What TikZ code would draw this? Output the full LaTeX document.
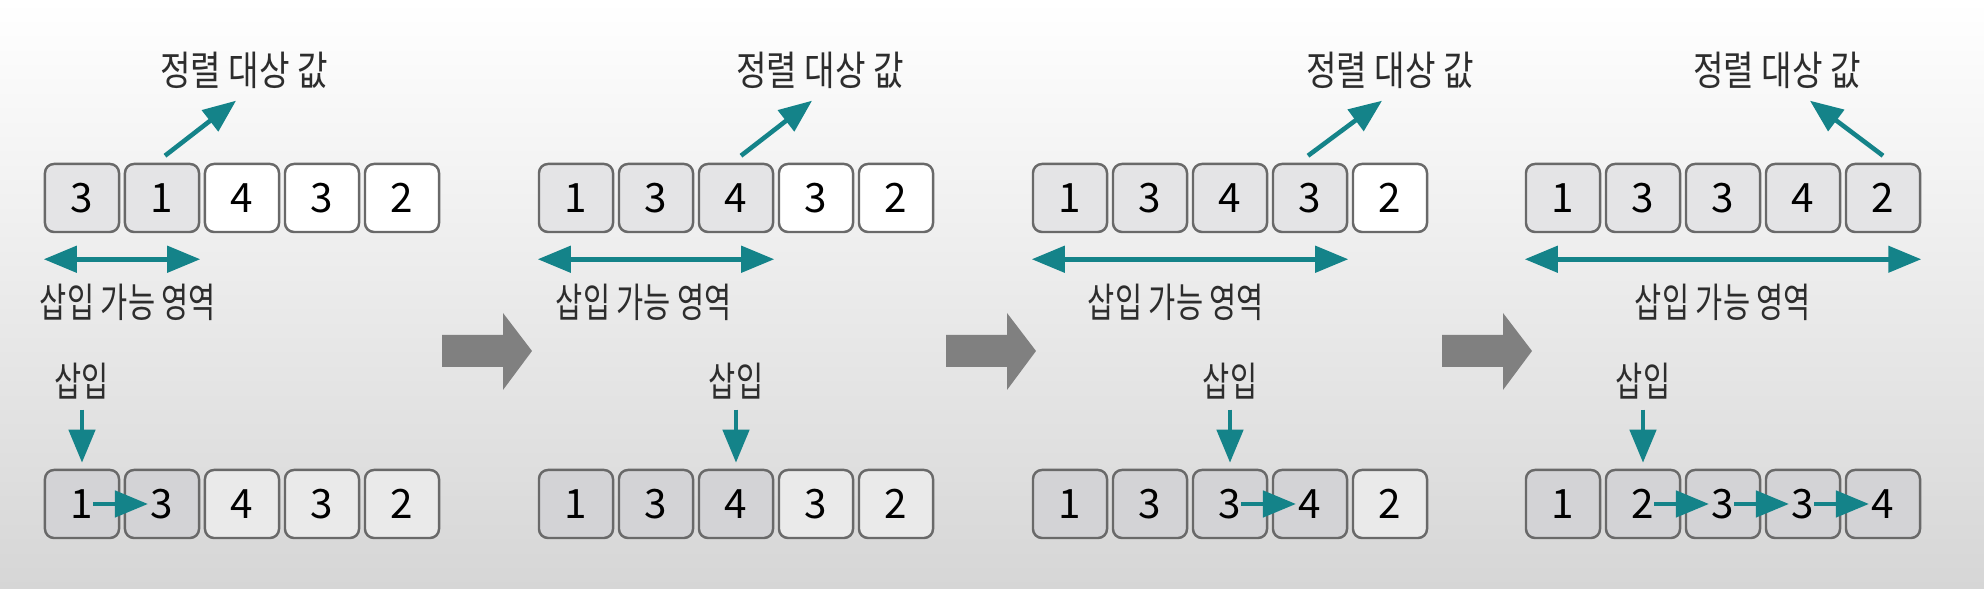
\documentclass[tikz,border=0pt]{standalone}
\usepackage{fontspec}
\setmainfont{Noto Sans CJK KR}
\newfontfamily\kofont[FakeStretch=0.82]{Noto Sans CJK KR}
\newfontfamily\kofontnarrow[FakeStretch=0.73]{Noto Sans CJK KR}
\usetikzlibrary{arrows.meta,positioning}
\definecolor{bgbottom}{RGB}{214,214,214}
\definecolor{bgmiddle}{RGB}{240,240,240}
\definecolor{topdone}{RGB}{228,228,230}
\definecolor{botdone}{RGB}{211,211,214}
\definecolor{bottodo}{RGB}{234,234,234}
\definecolor{cellline}{RGB}{105,105,105}
\definecolor{arrowteal}{RGB}{20,131,137}
\definecolor{biggray}{RGB}{128,128,128}
\definecolor{textgray}{RGB}{45,45,45}

\begin{document}
\begin{tikzpicture}[x=0.01cm, y=0.01cm, >={Triangle[length=0.33cm, width=0.26cm]},
  node distance=0.035cm,
  cell/.style={draw=cellline, line width=0.7pt, rounded corners=0.09cm, minimum width=0.74cm, minimum height=0.68cm, inner sep=0pt, font=\fontsize{11.5}{12}\selectfont},
  lbl/.style={inner sep=0pt, text=textgray, font=\kofont\fontsize{11.5}{13}\selectfont},
  lblnarrow/.style={lbl, font=\kofontnarrow\fontsize{11.5}{13}\selectfont},
  flow/.style={->, arrowteal, line width=1.3pt},
  span/.style={<->, arrowteal, line width=1.3pt},
  nextarrow/.style={fill=biggray}]
\shade[top color=white, middle color=bgmiddle, bottom color=bgbottom] (0,0) rectangle (1984,589);
% panel 1
\foreach \v/\f [count=\i] in {3/topdone,1/topdone,4/white,3/white,2/white}
  \node[cell, fill=\f] (t1\i) at ({82+80*(\i-1)},391) {\v};
\foreach \v/\f [count=\i] in {1/botdone,3/botdone,4/bottodo,3/bottodo,2/bottodo}
  \node[cell, fill=\f] (b1\i) at ({82+80*(\i-1)},85) {\v};
\node[lbl, above=0.73cm of t12, xshift=0.82cm] (val1) {정렬 대상 값};
\node[lblnarrow, above=0.69cm of b11] (ins1) {삽입};
\draw[flow] ([shift={(3,7)}]t12.north) -- ([shift={(-8,-11)}]val1.south);
\draw[span] ([yshift=-0.26cm]t11.south west) -- node[lblnarrow, below=0.23cm, xshift=0.06cm] {삽입 가능 영역} ([yshift=-0.26cm]t12.south east);
\draw[flow, shorten <=0.1cm, shorten >=0.06cm] (ins1) -- (b11);
\draw[flow] ([xshift=0.11cm]b11.center) -- ([xshift=-0.14cm]b12.center);
% panel 2
\foreach \v/\f [count=\i] in {1/topdone,3/topdone,4/topdone,3/white,2/white}
  \node[cell, fill=\f] (t2\i) at ({576+80*(\i-1)},391) {\v};
\foreach \v/\f [count=\i] in {1/botdone,3/botdone,4/botdone,3/bottodo,2/bottodo}
  \node[cell, fill=\f] (b2\i) at ({576+80*(\i-1)},85) {\v};
\node[lbl, above=0.73cm of t23, xshift=0.84cm] (val2) {정렬 대상 값};
\node[lblnarrow, above=0.69cm of b23] (ins2) {삽입};
\draw[flow] ([shift={(5,7)}]t23.north) -- ([shift={(-8,-11)}]val2.south);
\draw[span] ([yshift=-0.26cm]t21.south west) -- node[lblnarrow, below=0.23cm, xshift=-0.12cm] {삽입 가능 영역} ([yshift=-0.26cm]t23.south east);
\draw[flow, shorten <=0.1cm, shorten >=0.06cm] (ins2) -- (b23);
% panel 3
\foreach \v/\f [count=\i] in {1/topdone,3/topdone,4/topdone,3/topdone,2/white}
  \node[cell, fill=\f] (t3\i) at ({1070+80*(\i-1)},391) {\v};
\foreach \v/\f [count=\i] in {1/botdone,3/botdone,3/botdone,4/botdone,2/bottodo}
  \node[cell, fill=\f] (b3\i) at ({1070+80*(\i-1)},85) {\v};
\node[lbl, above=0.73cm of t34, xshift=0.8cm] (val3) {정렬 대상 값};
\node[lblnarrow, above=0.69cm of b33] (ins3) {삽입};
\draw[flow] ([shift={(-2,7)}]t34.north) -- ([shift={(-8,-11)}]val3.south);
\draw[span] ([yshift=-0.26cm]t31.south west) -- node[lblnarrow, below=0.23cm, xshift=-0.14cm] {삽입 가능 영역} ([yshift=-0.26cm]t34.south east);
\draw[flow, shorten <=0.1cm, shorten >=0.06cm] (ins3) -- (b33);
\draw[flow] ([xshift=0.11cm]b33.center) -- ([xshift=-0.14cm]b34.center);
% panel 4
\foreach \v [count=\i] in {1,3,3,4,2}
  \node[cell, fill=topdone] (t4\i) at ({1563+80*(\i-1)},391) {\v};
\foreach \v [count=\i] in {1,2,3,3,4}
  \node[cell, fill=botdone] (b4\i) at ({1563+80*(\i-1)},85) {\v};
\node[lbl, above=0.73cm of t45, xshift=-1.06cm] (val4) {정렬 대상 값};
\node[lblnarrow, above=0.69cm of b42] (ins4) {삽입};
\draw[flow] ([shift={(0,7)}]t45.north) -- ([shift={(33,-11)}]val4.south);
\draw[span] ([yshift=-0.26cm]t41.south west) -- node[lblnarrow, below=0.23cm] {삽입 가능 영역} ([yshift=-0.26cm]t45.south east);
\draw[flow, shorten <=0.1cm, shorten >=0.06cm] (ins4) -- (b42);
\foreach \a/\b in {2/3,3/4,4/5}
  \draw[flow] ([xshift=0.11cm]b4\a.center) -- ([xshift=-0.14cm]b4\b.center);
% step arrows
\foreach \x in {442,946,1442}
  \fill[nextarrow] (\x,254) -- (\x+61,254) -- (\x+61,276) -- (\x+90,238) -- (\x+61,199) -- (\x+61,222) -- (\x,222) -- cycle;
\end{tikzpicture}
\end{document}
